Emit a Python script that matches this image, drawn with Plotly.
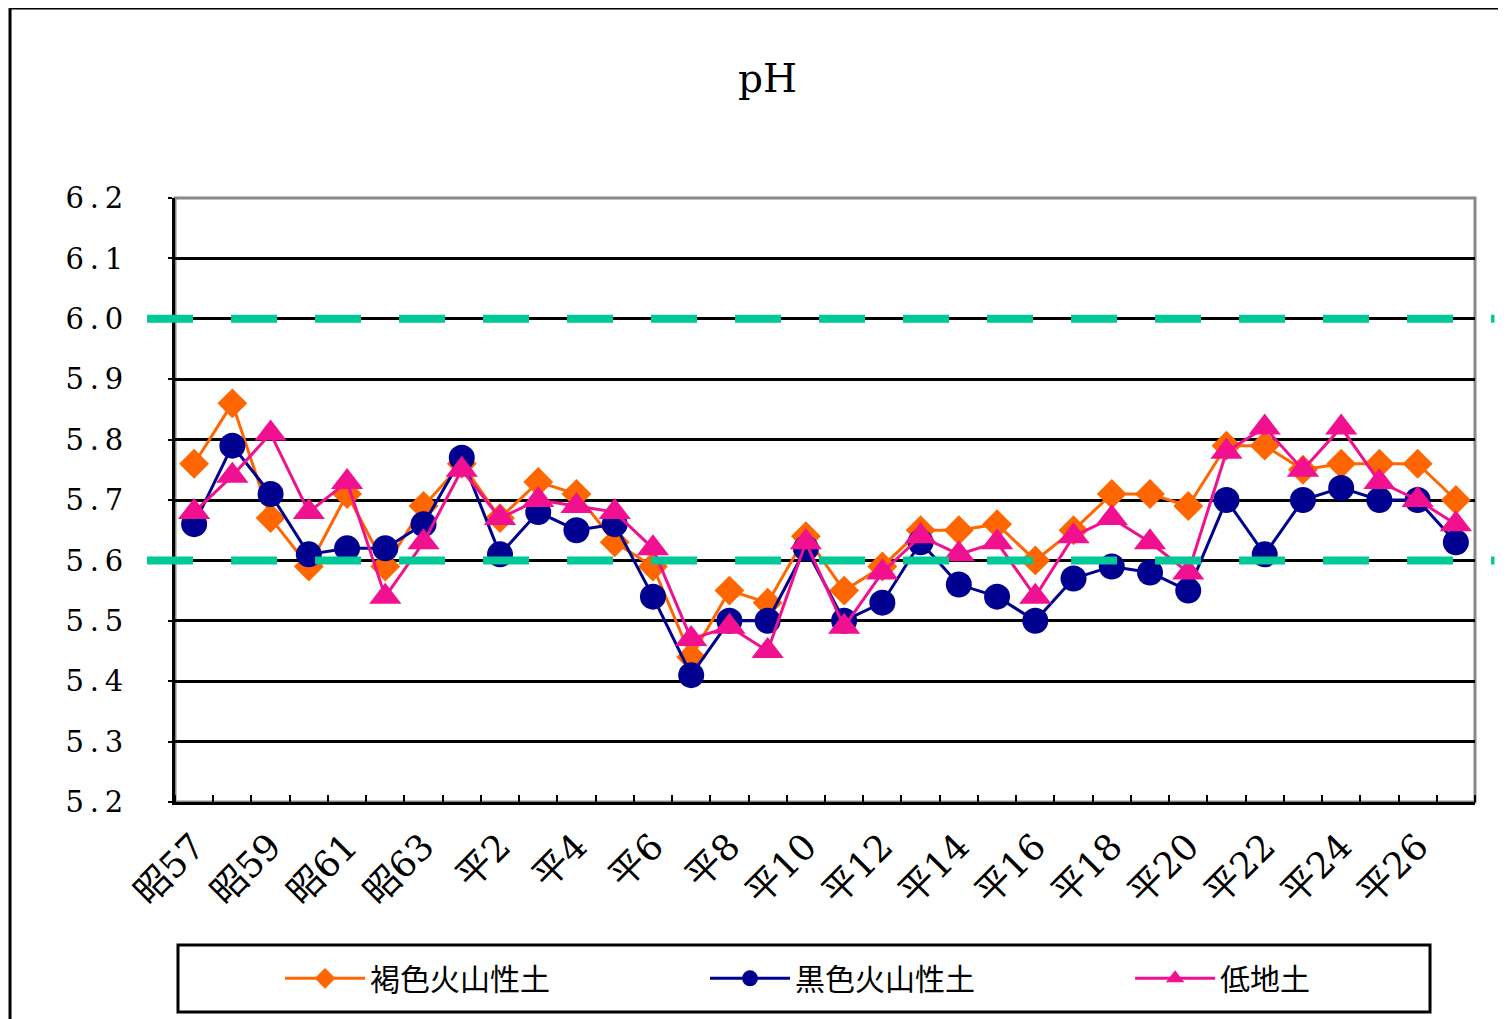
import plotly.graph_objects as go

categories = ["昭57", "昭58", "昭59", "昭60", "昭61", "昭62", "昭63",
              "平1", "平2", "平3", "平4", "平5", "平6", "平7", "平8", "平9",
              "平10", "平11", "平12", "平13", "平14", "平15", "平16", "平17",
              "平18", "平19", "平20", "平21", "平22", "平23", "平24", "平25",
              "平26", "平27"]

brown_volcanic = [5.76, 5.86, 5.67, 5.59, 5.71, 5.59, 5.69, 5.76, 5.67, 5.73,
                  5.71, 5.63, 5.59, 5.44, 5.55, 5.53, 5.64, 5.55, 5.59, 5.65,
                  5.65, 5.66, 5.60, 5.65, 5.71, 5.71, 5.69, 5.79, 5.79, 5.75,
                  5.76, 5.76, 5.76, 5.70]
black_volcanic = [5.66, 5.79, 5.71, 5.61, 5.62, 5.62, 5.66, 5.77, 5.61, 5.68,
                  5.65, 5.66, 5.54, 5.41, 5.50, 5.50, 5.62, 5.50, 5.53, 5.63,
                  5.56, 5.54, 5.50, 5.57, 5.59, 5.58, 5.55, 5.70, 5.61, 5.70,
                  5.72, 5.70, 5.70, 5.63]
lowland = [5.68, 5.74, 5.81, 5.68, 5.73, 5.54, 5.63, 5.75, 5.67, 5.70,
           5.69, 5.68, 5.62, 5.47, 5.49, 5.45, 5.63, 5.49, 5.58, 5.64,
           5.61, 5.63, 5.54, 5.64, 5.67, 5.63, 5.58, 5.78, 5.82, 5.75,
           5.82, 5.73, 5.70, 5.66]

series_names = ["褐色火山性土", "黒色火山性土", "低地土"]
y_ticks = [5.2, 5.3, 5.4, 5.5, 5.6, 5.7, 5.8, 5.9, 6.0, 6.1, 6.2]
reference_levels = [6.0, 5.6]

x_idx = list(range(len(categories)))

SERIF = "DejaVu Serif, Liberation Serif, Noto Sans CJK JP"
CJK = "Noto Sans CJK JP"

fig = go.Figure()
styles = [
    ("#FF6600", "diamond", 23, "legend", 0.0808),
    ("#000090", "circle", 26, "legend2", 0.4077),
    ("#F01090", "triangle-up", 28, "legend3", 0.7347),
]
for name, vals, (col, sym, sz, lg, lx) in zip(series_names,
                                              [brown_volcanic, black_volcanic, lowland],
                                              styles):
    fig.add_trace(go.Scatter(
        x=x_idx, y=vals, name=name, mode="lines+markers", legend=lg,
        line=dict(color=col, width=3),
        marker=dict(color=col, symbol=sym, size=sz, line=dict(width=0)),
    ))

# plot area frame (gray top/right)
fig.add_shape(type="rect", xref="paper", yref="paper", x0=0, x1=1, y0=0, y1=1,
              line=dict(color="#888888", width=3), layer="below")

# green dashed reference lines
for lv in reference_levels:
    fig.add_shape(type="line", xref="paper", yref="y", x0=-0.0215, x1=1.015,
                  y0=lv, y1=lv, line=dict(color="#00C896", width=8, dash="46px,38px"),
                  layer="above")

# outer chart frame
fig.add_shape(type="rect", xref="paper", yref="paper", x0=-0.1269, x1=1.05,
              y0=-0.40, y1=1.3146, line=dict(color="black", width=3), layer="below")

# legend frame
fig.add_shape(type="rect", xref="paper", yref="paper", x0=0.0023, x1=0.9654,
              y0=-0.3477, y1=-0.2368, line=dict(color="black", width=3), layer="below")

legend_common = dict(orientation="h", xanchor="left", y=-0.292, yanchor="middle",
                     font=dict(family=CJK, size=30, color="black"),
                     bgcolor="rgba(0,0,0,0)", borderwidth=0, itemwidth=80)

fig.update_layout(
    width=1498, height=1011,
    margin=dict(l=167, r=31, t=190, b=217, autoexpand=False),
    paper_bgcolor="white", plot_bgcolor="white",
    title=dict(text="pH", x=0.507, xanchor="center", y=0.9308, yanchor="middle",
               font=dict(family=SERIF, size=39, color="black")),
    showlegend=True,
    legend=dict(x=styles[0][4], **legend_common),
    legend2=dict(x=styles[1][4], **legend_common),
    legend3=dict(x=styles[2][4], **legend_common),
    xaxis=dict(range=[-0.5, len(categories) - 0.5], tickmode="array",
               tickvals=x_idx[::2], ticktext=categories[::2], tickangle=-45,
               ticks="", showgrid=False, zeroline=False,
               showline=True, linecolor="black", linewidth=3,
               ticklabelstandoff=6,
               tickfont=dict(family=SERIF, size=36, color="black"),
               minor=dict(tickmode="linear", tick0=0.5, dtick=1, ticks="inside",
                          ticklen=7, tickwidth=2, tickcolor="black", showgrid=False)),
    yaxis=dict(range=[5.2, 6.2], tickmode="array", tickvals=y_ticks,
               ticktext=[f"{v:.1f}".replace(".", "\u2009.\u2009") for v in y_ticks],
               ticks="outside", ticklen=4, tickwidth=2, tickcolor="black",
               ticklabelstandoff=39,
               showgrid=True, gridcolor="black", gridwidth=2.5, zeroline=False,
               showline=True, linecolor="black", linewidth=3,
               tickfont=dict(family=SERIF, size=29, color="black")),
)

fig.write_html("out.html")
